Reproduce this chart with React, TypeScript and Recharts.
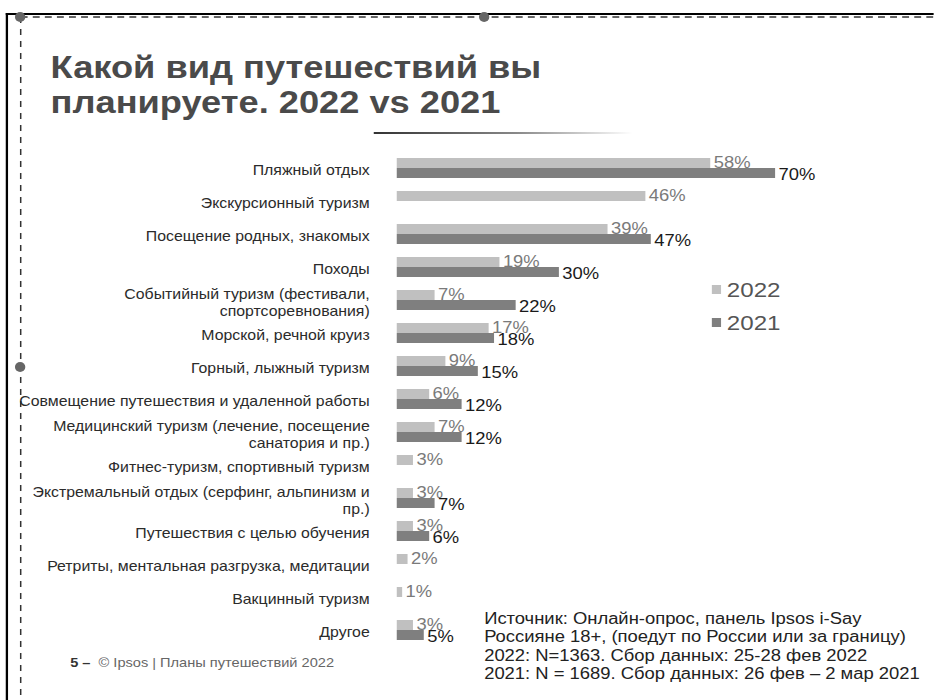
import React from "react";
import { Bar, BarChart, LabelList, XAxis, YAxis } from "recharts";

const categories = [
  "Пляжный отдых",
  "Экскурсионный туризм",
  "Посещение родных, знакомых",
  "Походы",
  "Событийный туризм (фестивали,\nспортсоревнования)",
  "Морской, речной круиз",
  "Горный, лыжный туризм",
  "Совмещение путешествия и удаленной работы",
  "Медицинский туризм (лечение, посещение\nсанатория и пр.)",
  "Фитнес-туризм, спортивный туризм",
  "Экстремальный отдых (серфинг, альпинизм и\nпр.)",
  "Путешествия с целью обучения",
  "Ретриты, ментальная разгрузка, медитации",
  "Вакцинный туризм",
  "Другое",
];

const values2022 = [58, 46, 39, 19, 7, 17, 9, 6, 7, 3, 3, 3, 2, 1, 3];
const values2021 = [70, null, 47, 30, 22, 18, 15, 12, 12, null, 7, 6, null, null, 5];

const seriesNames = ["2022", "2021"];

const sourceLines = [
  "Источник: Онлайн-опрос, панель Ipsos i-Say",
  "Россияне 18+, (поедут по России или за границу)",
  "2022: N=1363. Сбор данных: 25-28 фев 2022",
  "2021: N = 1689. Сбор данных: 26 фев – 2 мар 2021",
];

const data = categories.map((name, i) => ({
  name,
  y2022: values2022[i],
  y2021: values2021[i],
}));

const FONT = "'Liberation Sans', Arial, sans-serif";
const LIGHT = "#c0c0c0";
const DARK = "#7f7f7f";

// the slide in the reference is stretched horizontally, so the whole page is
// drawn narrower and widened with a transform
const STRETCH = 1.15;
const W = 812;

function CategoryTick({ x, y, payload }: any) {
  const lines = String(payload.value).split("\n");
  const lh = 17;
  const y0 = y + 3 - ((lines.length - 1) * lh) / 2;
  return (
    <text
      x={x}
      y={y0}
      textAnchor="end"
      dominantBaseline="central"
      fontSize={13.8}
      fontFamily={FONT}
      fill="#2b2b2b"
    >
      {lines.map((l, i) => (
        <tspan key={i} x={x} y={y0 + i * lh}>
          {l}
        </tspan>
      ))}
    </text>
  );
}

const pct = (v: any) => (v == null ? "" : `${v}%`);

export default function App() {
  return (
    <div
      style={{
        position: "absolute",
        left: 0,
        top: 0,
        width: 934,
        height: 700,
        background: "#fff",
        overflow: "hidden",
        fontFamily: FONT,
      }}
    >
      <div
        style={{
          position: "absolute",
          left: 0,
          top: 0,
          width: W,
          height: 700,
          transform: `scaleX(${STRETCH})`,
          transformOrigin: "0 0",
        }}
      >
        <svg width={W} height={700} style={{ position: "absolute", left: 0, top: 0 }}>
          <defs>
            <linearGradient id="rule" x1="0" x2="1" y1="0" y2="0">
              <stop offset="0" stopColor="#333" />
              <stop offset="0.55" stopColor="#888" />
              <stop offset="1" stopColor="#fff" />
            </linearGradient>
          </defs>
          <line x1={5} y1={14} x2={W} y2={14} stroke="#000" strokeWidth={2} />
          <line x1={6} y1={13} x2={6} y2={700} stroke="#000" strokeWidth={2} />
          <line x1={18} y1={17} x2={W} y2={17} stroke="#333" strokeWidth={1.5} strokeDasharray="6 4.5" />
          <line x1={18} y1={17} x2={18} y2={700} stroke="#333" strokeWidth={1.3} strokeDasharray="6 6" />
          <ellipse cx={17.5} cy={17} rx={4.5} ry={5} fill="#666" />
          <ellipse cx={421} cy={17} rx={4.5} ry={5} fill="#666" />
          <ellipse cx={17.5} cy={367} rx={4.5} ry={5} fill="#666" />
          <rect x={325} y={132} width={225} height={2} fill="url(#rule)" />
        </svg>

        <div
          style={{
            position: "absolute",
            left: 44,
            top: 50,
            fontSize: 31.5,
            lineHeight: "35px",
            fontWeight: 700,
            color: "#4a4a4a",
            whiteSpace: "nowrap",
          }}
        >
          Какой вид путешествий вы
          <br />
          планируете. 2022 vs 2021
        </div>

        <div style={{ position: "absolute", left: 0, top: 0 }}>
          <BarChart
            width={W}
            height={700}
            data={data}
            layout="vertical"
            margin={{ top: 151, right: 91, bottom: 54, left: 0 }}
            barGap={0}
            barCategoryGap={7}
          >
            <XAxis type="number" domain={[0, 80]} hide />
            <YAxis
              type="category"
              dataKey="name"
              width={345}
              tickLine={false}
              axisLine={false}
              tickSize={0}
              tickMargin={23.5}
              interval={0}
              tick={<CategoryTick />}
            />
            <Bar dataKey="y2022" name="2022" fill={LIGHT} isAnimationActive={false}>
              <LabelList
                dataKey="y2022"
                position="right"
                offset={3}
                formatter={pct}
                fill="#7a7a7a"
                fontSize={16}
                fontFamily={FONT}
                dy={-1}
              />
            </Bar>
            <Bar dataKey="y2021" name="2021" fill={DARK} isAnimationActive={false}>
              <LabelList
                dataKey="y2021"
                position="right"
                offset={3}
                formatter={pct}
                fill="#1a1a1a"
                fontSize={16}
                fontFamily={FONT}
                dy={1.5}
              />
            </Bar>
          </BarChart>
        </div>

        <div style={{ position: "absolute", left: 619, top: 273 }}>
          {seriesNames.map((s, i) => (
            <div key={s} style={{ display: "flex", alignItems: "center", height: 33 }}>
              <span
                style={{
                  width: 8,
                  height: 9,
                  background: i === 0 ? LIGHT : DARK,
                  marginRight: 5,
                  display: "inline-block",
                }}
              />
              <span style={{ fontSize: 21, color: "#555" }}>{s}</span>
            </div>
          ))}
        </div>

        <div
          style={{
            position: "absolute",
            left: 421,
            top: 610,
            fontSize: 16,
            lineHeight: "18.3px",
            color: "#222",
            whiteSpace: "nowrap",
          }}
        >
          {sourceLines.map((l) => (
            <div key={l}>{l}</div>
          ))}
        </div>

        <div
          style={{
            position: "absolute",
            left: 61,
            top: 656,
            fontSize: 12.7,
            color: "#666",
            whiteSpace: "nowrap",
          }}
        >
          <b style={{ color: "#333" }}>5 –</b>&nbsp; © Ipsos | Планы путешествий 2022
        </div>
      </div>
    </div>
  );
}
